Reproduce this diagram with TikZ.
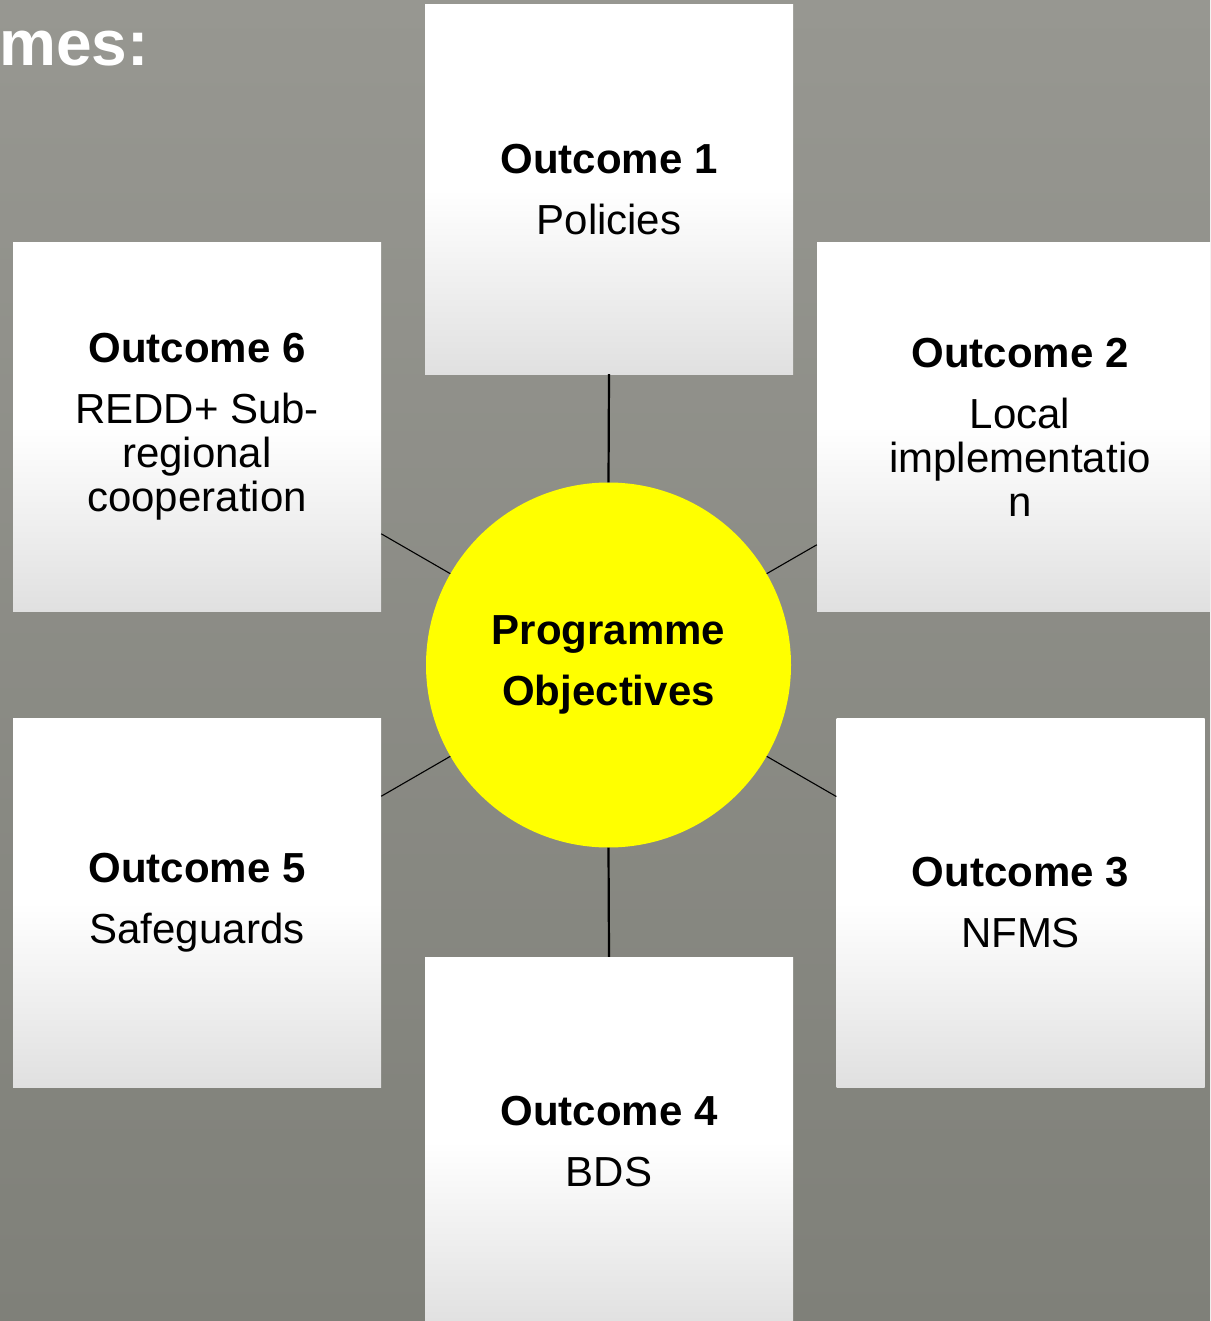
\documentclass[tikz,border=0pt]{standalone}
\usepackage{fontspec}
\setmainfont{Liberation Sans}
\definecolor{bgtop}{RGB}{151,151,145}
\definecolor{bgbot}{RGB}{127,128,121}
\definecolor{boxgray}{RGB}{224,224,224}
\definecolor{sunny}{RGB}{255,255,0}
\tikzset{
  outbox/.style={rectangle, minimum width=368pt, minimum height=369pt, inner sep=0pt,
    top color=white, bottom color=boxgray, middle color=white,
    align=center, font=\fontsize{42}{44}\selectfont},
  hub/.style={circle, minimum size=365pt, inner sep=0pt, fill=sunny,
    align=center, font=\fontsize{42}{61}\selectfont\bfseries},
  spoke/.style={draw=black, line width=2.2pt},
  ray/.style={draw=black, line width=1.1pt},
}
\begin{document}
\begin{tikzpicture}[x=1pt,y=-1pt]
  \useasboundingbox (0,0) rectangle (1210,1321);
  \clip (0,0) rectangle (1210,1321);
  % backdrop
  \shade[top color=bgtop, bottom color=bgbot] (0,0) rectangle (1210,1321);
  % heading fragment
  \node[anchor=base east, inner sep=0pt, text=white,
        font=\fontsize{64}{70}\selectfont\bfseries] (head) at (149,66) {mes:};
  % outcome boxes
  \node[outbox] (b1) at (609,189.5) {\textbf{Outcome 1}\\[17pt]Policies};
  \node[outbox, minimum width=406pt] (b2) at (1020,427) {\textbf{Outcome 2}\\[17pt]Local\\implementatio\\n};
  \node[outbox] (b3) at (1020.5,903) {\textbf{Outcome 3}\\[17pt]NFMS};
  \node[outbox] (b4) at (609,1141.5) {\textbf{Outcome 4}\\[17pt]BDS};
  \node[outbox] (b5) at (197,903) {\textbf{Outcome 5}\\[17pt]Safeguards};
  \node[outbox] (b6) at (197,427) {\textbf{Outcome 6}\\[17pt]REDD+ Sub-\\regional\\cooperation};
  % central hub
  \node[hub] (c) at (608.5,665) {Programme\\Objectives};
  % radial end points on the side boxes
  \coordinate (e2) at (intersection of c.center--c.30 and b2.north west--b2.south west);
  \coordinate (e3) at (intersection of c.center--c.-30 and b3.north west--b3.south west);
  \coordinate (e5) at (intersection of c.center--c.210 and b5.north east--b5.south east);
  \coordinate (e6) at (intersection of c.center--c.150 and b6.north east--b6.south east);
  % connectors
  \draw[spoke] (b1.south) -- (c.north);
  \draw[spoke] (c.south) -- (b4.north);
  \draw[ray] (c.30) -- (e2);
  \draw[ray] (c.-30) -- (e3);
  \draw[ray] (c.210) -- (e5);
  \draw[ray] (c.150) -- (e6);
\end{tikzpicture}
\end{document}
